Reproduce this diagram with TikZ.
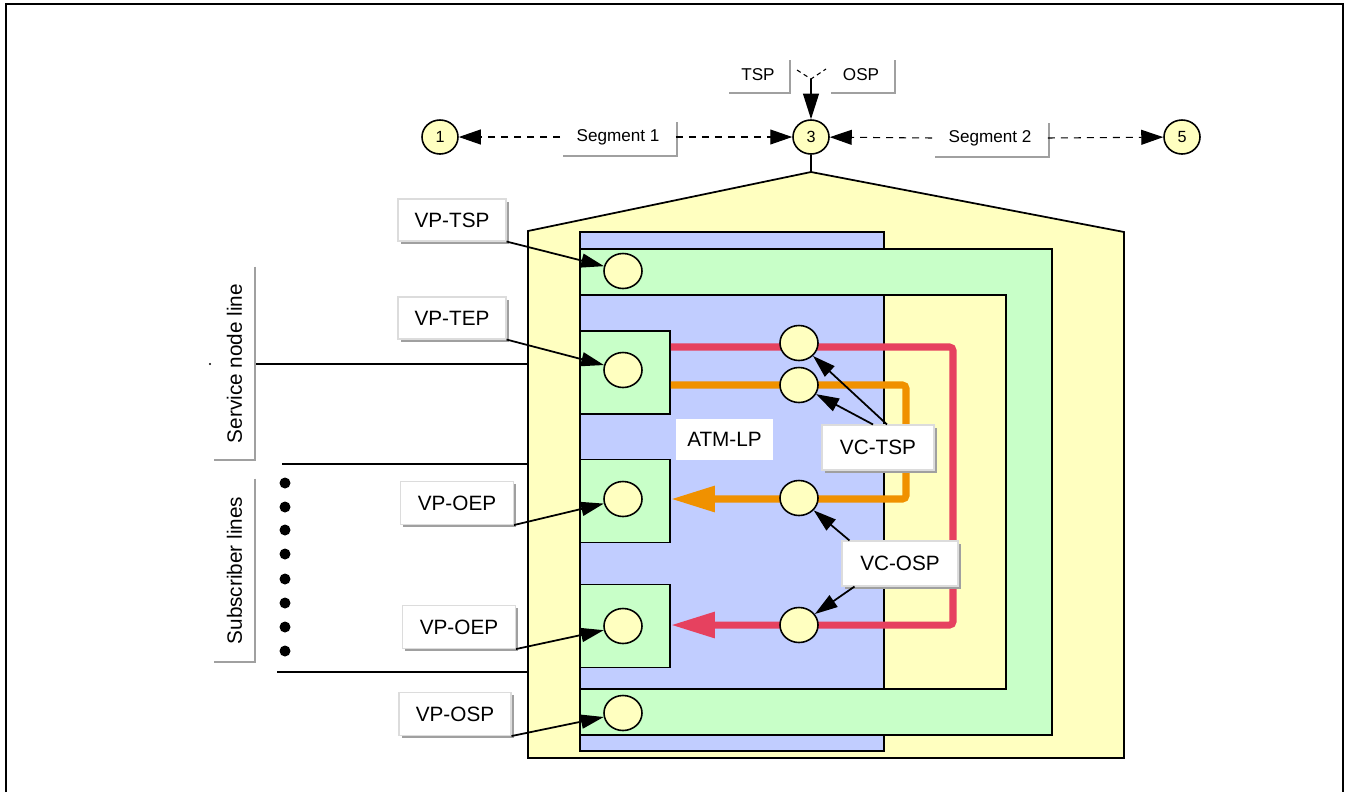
\documentclass[tikz,border=0pt]{standalone}
\usepackage{fontspec}
\setmainfont{Liberation Sans}
\usetikzlibrary{arrows.meta,shapes.geometric,shadows}
\newlength\upx
\setlength\upx{0.02cm}
\definecolor{shelly}{RGB}{255,255,192}
\definecolor{lpblue}{RGB}{193,205,255}
\definecolor{vpgreen}{RGB}{200,255,200}
\definecolor{tspred}{RGB}{230,65,95}
\definecolor{ospora}{RGB}{240,145,0}
\definecolor{shadegray}{RGB}{160,160,160}
\definecolor{rimgray}{RGB}{220,220,220}
\begin{document}
\begin{tikzpicture}[x=0.02cm,y=-0.02cm,
  outline/.style={draw=black,line width=1pt},
  numcirc/.style={ellipse,draw,line width=0.9pt,fill=shelly,minimum width=36\upx,minimum height=34\upx,inner sep=0pt,font=\fontsize{9.2}{10}\selectfont},
  ptcirc/.style={ellipse,draw,line width=0.9pt,fill=shelly,minimum width=38\upx,minimum height=35\upx,inner sep=0pt},
  epbox/.style={rectangle,draw,line width=1pt,fill=vpgreen,minimum width=90\upx,minimum height=83\upx,inner sep=0pt},
  seglbl/.style={fill=white,inner sep=0pt,font=\fontsize{9.75}{11}\selectfont,
     drop shadow={shadow xshift=1.2pt,shadow yshift=-1.2pt,fill=shadegray,opacity=1}},
  tag/.style={draw=rimgray,line width=0.6pt,fill=white,inner sep=0pt,font=\fontsize{11.8}{14}\selectfont,
     drop shadow={shadow xshift=1.6pt,shadow yshift=-1.6pt,fill=shadegray,opacity=1}},
  sidelbl/.style={inner sep=0pt,minimum width=41\upx,font=\fontsize{11.8}{14}\selectfont},
  sideshade/.style={draw=shadegray,line width=1.2pt},
  ptr/.style={line width=1pt,-{Triangle[length=13pt,width=8pt]}},
  dashptr/.style={line width=0.6pt,dash pattern=on 4pt off 3.4pt,-{Triangle[length=12.5pt,width=8.5pt]}},
  flow/.style={line width=4pt,rounded corners=2pt,-{Triangle[length=25pt,width=14pt]}}
]
\useasboundingbox (0,0) rectangle (1345,792);

% page frame, open at the bottom
\draw[line width=1.1pt] (6,792) -- (6,4) -- (1343,4) -- (1343,792);

% segment endpoints
\node[numcirc] (c1) at (440,137) {1};
\node[numcirc] (c3) at (811,137) {3};
\node[numcirc] (c5) at (1182,137) {5};

\node[seglbl,minimum width=115\upx,minimum height=35\upx] (seg1) at (618,137) {Segment 1};
\node[seglbl,minimum width=115\upx,minimum height=35\upx] (seg2) at (990,138) {Segment 2};
\node[seglbl,minimum width=62\upx,minimum height=34\upx] (tsp) at (758,75) {TSP};
\node[seglbl,minimum width=65\upx,minimum height=34\upx] (osp) at (861,75) {OSP};

\draw[dashptr] (seg1.west) -- (c1);
\draw[dashptr] (seg1.east) -- (c3);
\draw[dashptr] (seg2.west) -- (c3);
\draw[dashptr] (seg2.east) -- (c5);

% TSP / OSP selector feeding point 3
\coordinate (fork) at (811,79);
\draw[line width=0.6pt,dash pattern=on 2.5pt off 2pt] (797,70) -- (fork) -- (826,69);
\draw[line width=0.8pt,-{Triangle[length=14.5pt,width=9pt]}] (fork) -- (c3.north);

% access node housing
\coordinate (apex) at (811,172);
\draw[outline,fill=shelly] (528,231) -- (apex) -- (1124,232) -- (1124,758) -- (528,758) -- cycle;
\draw[outline] (c3.south) -- (apex);

% ATM layer processing column and the VP through-channel
\draw[outline,fill=lpblue] (580,232) rectangle (884,751);
\draw[outline,fill=vpgreen] (580,249) rectangle (1052,735);
\draw[outline,fill=shelly] (580,295) rectangle (1006,689);
\draw[outline,fill=lpblue] (580,295) rectangle (884,689);

% VP end points
\node[epbox] (epA) at (625,372.5) {};
\node[epbox] (epB) at (625,501) {};
\node[epbox] (epC) at (625,626) {};

% VC flows
\coordinate (rTop) at (953,347);
\coordinate (rBot) at (953,625);
\coordinate (oTop) at (906,385);
\coordinate (oBot) at (906,499);
\draw[flow,draw=tspred] (epA.east |- rTop) -- (rTop) -- (rBot) -- (epC.east |- rBot);
\draw[flow,draw=ospora] (epA.east |- oTop) -- (oTop) -- (oBot) -- (epB.east |- oBot);

% connection points
\node[ptcirc] (ptsp) at (623,271) {};
\node[ptcirc] (pA) at (623,370) {};
\node[ptcirc] (pB) at (623,499) {};
\node[ptcirc] (pC) at (623,626) {};
\node[ptcirc] (posp) at (623,713) {};
\node[ptcirc] (v1) at (799,343) {};
\node[ptcirc] (v2) at (799,385) {};
\node[ptcirc] (v3) at (799,498) {};
\node[ptcirc] (v4) at (799,625) {};

% line terminations on the left
\draw[outline] (256,364) -- (528,364);
\draw[outline] (282,464) -- (528,464);
\draw[outline] (277,672) -- (528,672);
\foreach \yy in {483,507,530,554,579,603,627,651}
  \fill (285,\yy) circle[radius=5.5];
\fill (210,364) circle[radius=1.2];

\node[sidelbl,minimum height=193\upx] (snl) at (234.5,363.5) {\rotatebox{90}{Service node line}};
\draw[sideshade] (snl.north east) -- (snl.south east) -- (snl.south west);
\node[sidelbl,minimum height=183\upx] (subl) at (234.5,570.5) {\rotatebox{90}{Subscriber lines}};
\draw[sideshade] (subl.north east) -- (subl.south east) -- (subl.south west);

% labels
\node[tag,minimum width=108\upx,minimum height=42\upx] (vptsp) at (452,220) {VP-TSP};
\node[tag,minimum width=108\upx,minimum height=42\upx] (vptep) at (452,318) {VP-TEP};
\node[tag,minimum width=113\upx,minimum height=43\upx] (vpoep1) at (457,503) {VP-OEP};
\node[tag,minimum width=113\upx,minimum height=43\upx] (vpoep2) at (459,627) {VP-OEP};
\node[tag,minimum width=112\upx,minimum height=43\upx] (vposp) at (455,714) {VP-OSP};
\node[fill=white,inner sep=0pt,minimum width=97\upx,minimum height=41\upx,font=\fontsize{11.8}{14}\selectfont] (atm) at (724.5,439.5) {ATM-LP};

\draw[ptr] (vptsp.south east) -- (ptsp);
\draw[ptr] (vptep.south east) -- (pA);
\draw[ptr] (vpoep1.south east) -- (pB);
\draw[ptr] (vpoep2.south east) -- (pC);
\draw[ptr] (vposp.south east) -- (posp);

\node[tag,minimum width=112\upx,minimum height=45\upx] (vctsp) at (878,447.5) {VC-TSP};
\node[tag,minimum width=116\upx,minimum height=45\upx] (vcosp) at (900,563.5) {VC-OSP};

\draw[ptr] ([xshift=9\upx]vctsp.north) -- (v1);
\draw[ptr] ([xshift=-5\upx]vctsp.north) -- (v2);
\draw[ptr] ([xshift=8\upx]vcosp.north west) -- (v3);
\draw[ptr] ([xshift=13\upx]vcosp.south west) -- (v4);
\end{tikzpicture}
\end{document}
